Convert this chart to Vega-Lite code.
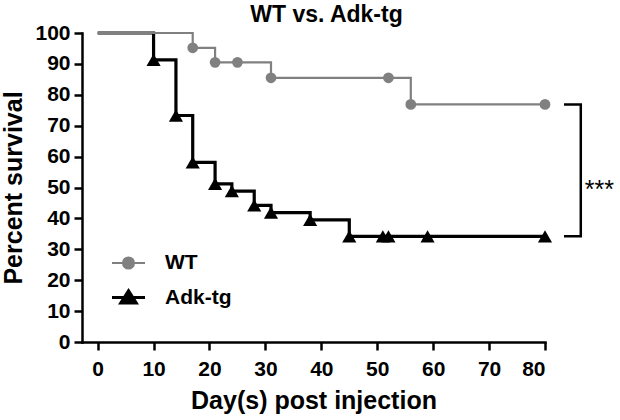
{
  "$schema": "https://vega.github.io/schema/vega-lite/v6.json",
  "width": 463,
  "height": 309,
  "autosize": {"type": "none"},
  "padding": {"left": 82, "top": 33, "right": 75, "bottom": 78},
  "background": "white",
  "title": {
    "text": "WT vs. Adk-tg",
    "font": "Liberation Sans",
    "fontWeight": "bold",
    "fontSize": 23,
    "color": "black",
    "anchor": "middle",
    "dx": 13,
    "offset": -5
  },
  "config": {
    "view": {"stroke": null},
    "font": "Liberation Sans",
    "axis": {
      "domainColor": "black",
      "domainWidth": 2.5,
      "domainCap": "square",
      "tickColor": "black",
      "tickWidth": 2.5,
      "tickSize": 8,
      "labelColor": "black",
      "labelFont": "Liberation Sans",
      "labelFontWeight": "bold",
      "labelFontSize": 21,
      "labelOverlap": false,
      "titleColor": "black",
      "titleFont": "Liberation Sans",
      "titleFontWeight": "bold",
      "titleFontSize": 25,
      "grid": false
    }
  },
  "datasets": {
    "survival": [
      {"group": "Adk-tg", "day": 0, "survival": 100},
      {"group": "Adk-tg", "day": 10, "survival": 91.3},
      {"group": "Adk-tg", "day": 14, "survival": 73.3},
      {"group": "Adk-tg", "day": 17, "survival": 58.1},
      {"group": "Adk-tg", "day": 21, "survival": 51.2},
      {"group": "Adk-tg", "day": 24, "survival": 48.8},
      {"group": "Adk-tg", "day": 28, "survival": 44.2},
      {"group": "Adk-tg", "day": 31, "survival": 41.9},
      {"group": "Adk-tg", "day": 38, "survival": 39.5},
      {"group": "Adk-tg", "day": 45, "survival": 34.2},
      {"group": "Adk-tg", "day": 51, "survival": 34.2},
      {"group": "Adk-tg", "day": 52, "survival": 34.2},
      {"group": "Adk-tg", "day": 59, "survival": 34.2},
      {"group": "Adk-tg", "day": 80, "survival": 34.2},
      {"group": "WT", "day": 0, "survival": 100},
      {"group": "WT", "day": 17, "survival": 95.2},
      {"group": "WT", "day": 21, "survival": 90.5},
      {"group": "WT", "day": 25, "survival": 90.5},
      {"group": "WT", "day": 31, "survival": 85.5},
      {"group": "WT", "day": 52, "survival": 85.5},
      {"group": "WT", "day": 56, "survival": 76.9},
      {"group": "WT", "day": 80, "survival": 76.9}
    ],
    "bracket": [
      {"day": 83.4, "survival": 76.9, "order": 1},
      {"day": 86.4, "survival": 76.9, "order": 2},
      {"day": 86.4, "survival": 34.2, "order": 3},
      {"day": 83.4, "survival": 34.2, "order": 4}
    ],
    "significance": [
      {"day": 86.4, "survival": 46.6, "label": "***"}
    ]
  },
  "encoding": {
    "x": {
      "field": "day",
      "type": "quantitative",
      "scale": {"domain": [-2.8, 80], "nice": false, "zero": false},
      "axis": {"values": [0, 10, 20, 30, 40, 50, 60, 70, 80], "title": "Day(s) post injection", "labelPadding": 8, "titlePadding": 9}
    },
    "y": {
      "field": "survival",
      "type": "quantitative",
      "scale": {"domain": [0, 100], "nice": false},
      "axis": {"values": [0, 10, 20, 30, 40, 50, 60, 70, 80, 90, 100], "title": "Percent survival", "labelPadding": 4, "titlePadding": 8}
    }
  },
  "layer": [
    {
      "data": {"name": "survival"},
      "mark": {"type": "line", "interpolate": "step-after", "clip": false},
      "encoding": {
        "color": {
          "field": "group",
          "type": "nominal",
          "scale": {"domain": ["WT", "Adk-tg"], "range": ["#808080", "#000000"]},
          "legend": {
            "title": null,
            "orient": "none",
            "legendX": 28,
            "legendY": 212,
            "symbolSize": 1089,
            "symbolType": "M-1,0H1M0.33,0A0.33,0.33,0,1,1,-0.33,0A0.33,0.33,0,1,1,0.33,0Z",
            "labelFont": "Liberation Sans",
            "labelFontWeight": "bold",
            "labelFontSize": 21,
            "labelColor": "black",
            "labelOffset": 18,
            "rowPadding": 6,
            "encode": {
              "symbols": {
                "update": {
                  "shape": {"signal": "datum.value === 'WT' ? 'M-1,0H1M0.33,0A0.33,0.33,0,1,1,-0.33,0A0.33,0.33,0,1,1,0.33,0Z' : 'M-1,0H1M0,-0.4L0.46,0.33L-0.46,0.33Z'"},
                  "fill": {"signal": "datum.value === 'WT' ? '#808080' : '#000000'"},
                  "stroke": {"signal": "datum.value === 'WT' ? '#808080' : '#000000'"},
                  "strokeWidth": {"signal": "datum.value === 'WT' ? 2.5 : 3.5"},
                  "opacity": {"value": 1},
                  "fillOpacity": {"value": 1}
                }
              }
            }
          }
        },
        "strokeWidth": {
          "field": "group",
          "type": "nominal",
          "scale": {"domain": ["WT", "Adk-tg"], "range": [2.2, 3.2]},
          "legend": null
        }
      }
    },
    {
      "data": {"name": "survival"},
      "transform": [{"filter": "datum.day > 0 && datum.group === 'WT'"}],
      "mark": {"type": "point", "shape": "circle", "size": 115, "filled": true, "opacity": 1, "color": "#808080", "clip": false}
    },
    {
      "data": {"name": "survival"},
      "transform": [{"filter": "datum.day > 0 && datum.group === 'Adk-tg'"}],
      "mark": {"type": "point", "shape": "triangle-up", "size": 200, "filled": true, "opacity": 1, "color": "#000000", "clip": false}
    },
    {
      "data": {"name": "bracket"},
      "mark": {"type": "line", "color": "black", "strokeWidth": 2.5, "clip": false},
      "encoding": {
        "order": {"field": "order", "type": "quantitative"}
      }
    },
    {
      "data": {"name": "significance"},
      "mark": {"type": "text", "align": "left", "baseline": "alphabetic", "dx": 4, "fontSize": 25, "font": "Liberation Sans", "color": "black", "clip": false},
      "encoding": {
        "text": {"field": "label"}
      }
    }
  ]
}
